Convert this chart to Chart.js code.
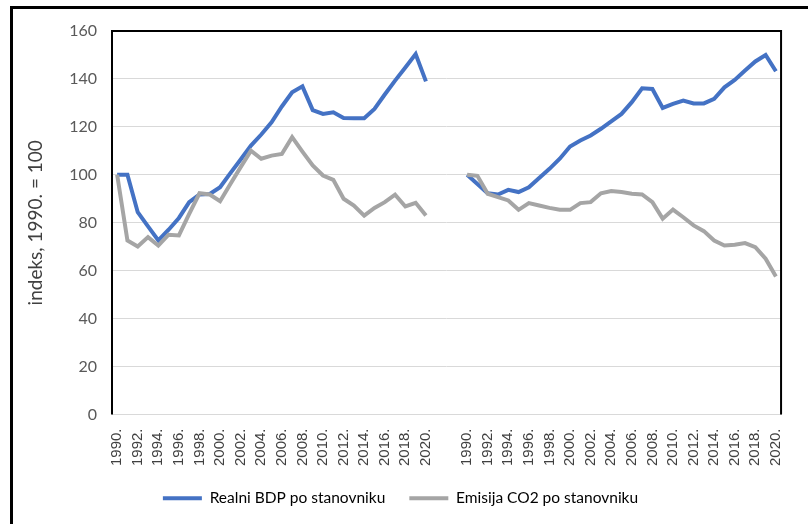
<!DOCTYPE html>
<html>
<head>
<meta charset="utf-8">
<script src="https://cdn.jsdelivr.net/npm/chart.js@4.4.1/dist/chart.umd.min.js"></script>
<style>
  html, body { margin: 0; padding: 0; background: #fff; }
  #wrap { width: 808px; height: 524px; position: relative; }
</style>
</head>
<body>
<div id="wrap"><canvas id="chart" width="808" height="524"></canvas></div>
<script>
// years shown on each of the two panels
const years = ['1990.', '1991.', '1992.', '1993.', '1994.', '1995.', '1996.', '1997.', '1998.', '1999.',
  '2000.', '2001.', '2002.', '2003.', '2004.', '2005.', '2006.', '2007.', '2008.', '2009.',
  '2010.', '2011.', '2012.', '2013.', '2014.', '2015.', '2016.', '2017.', '2018.', '2019.', '2020.'];
// empty categories between the panels
const gapLabels = ['', '', ''];

// left panel
const bdpLeft = [100, 100, 84.4, 78.5, 72.6, 77.1, 82, 88.6, 91.8, 92, 94.8, 100.7, 106.4, 112.2, 116.8, 121.9,
  128.5, 134.4, 136.9, 127, 125.4, 126.1, 123.7, 123.6, 123.6, 127.5, 133.5, 139.3, 144.8, 150.4, 139];
const co2Left = [100, 72.6, 70.1, 74, 70.5, 75, 74.7, 83.7, 92.3, 91.8, 89, 96.2, 103.2, 110.1, 106.7, 108,
  108.7, 115.7, 109.7, 103.9, 99.7, 97.9, 90, 87.2, 83, 86.2, 88.6, 91.7, 86.8, 88.3, 83];

// right panel
const bdpRight = [100, 96.2, 92.3, 91.8, 93.7, 92.8, 94.8, 98.7, 102.5, 106.7, 111.8, 114.3, 116.4, 119.2, 122.3,
  125.4, 130.3, 136.1, 135.8, 127.9, 129.6, 131, 129.8, 129.8, 131.7, 136.5, 139.6, 143.5, 147.3, 150, 143.2];
const co2Right = [100, 99.6, 92.1, 90.7, 89.3, 85.4, 88.2, 87.2, 86.2, 85.4, 85.4, 88.2, 88.6, 92.3, 93.2, 92.8,
  92.1, 91.8, 88.6, 81.7, 85.5, 82.3, 78.9, 76.5, 72.6, 70.5, 70.8, 71.5, 69.8, 65, 57.6];

const seriesNames = ['Realni BDP po stanovniku', 'Emisija CO2 po stanovniku'];
const yTitle = 'indeks, 1990. = 100';

const gapValues = gapLabels.map(() => null);
const labels = [...years, ...gapLabels, ...years];

// outer frame + black plot border
const framePlugin = {
  id: 'frame',
  beforeDraw(chart) {
    const ctx = chart.ctx;
    ctx.save();
    ctx.fillStyle = '#fff';
    ctx.fillRect(0, 0, chart.width, chart.height);
    ctx.strokeStyle = '#000';
    ctx.lineWidth = 3;
    ctx.beginPath();
    ctx.moveTo(11.5, chart.height + 10);
    ctx.lineTo(11.5, 7.5);
    ctx.lineTo(chart.width + 10, 7.5);
    ctx.stroke();
    ctx.restore();
  },
  afterDraw(chart) {
    const a = chart.chartArea;
    const ctx = chart.ctx;
    ctx.save();
    ctx.strokeStyle = '#000';
    ctx.lineWidth = 2;
    ctx.beginPath();
    ctx.moveTo(a.left, a.bottom);
    ctx.lineTo(a.left, a.top);
    ctx.lineTo(a.right, a.top);
    ctx.lineTo(a.right, a.bottom);
    ctx.stroke();
    ctx.restore();
  }
};

Chart.defaults.font.family = 'Lato';
Chart.defaults.color = '#595959';

new Chart(document.getElementById('chart'), {
  type: 'line',
  data: {
    labels: labels,
    datasets: [
      {
        label: seriesNames[0],
        data: [...bdpLeft, ...gapValues, ...bdpRight],
        borderColor: '#4472C4',
        backgroundColor: '#4472C4',
        borderWidth: 4,
        pointRadius: 0,
        tension: 0,
        spanGaps: false,
        order: 1
      },
      {
        label: seriesNames[1],
        data: [...co2Left, ...gapValues, ...co2Right],
        borderColor: '#A5A5A5',
        backgroundColor: '#A5A5A5',
        borderWidth: 4,
        pointRadius: 0,
        tension: 0,
        spanGaps: false,
        order: 0
      }
    ]
  },
  options: {
    responsive: false,
    animation: false,
    layout: { padding: { left: 4, right: 11, top: 31, bottom: 8 } },
    plugins: {
      tooltip: { enabled: false },
      legend: {
        position: 'bottom',
        labels: {
          boxWidth: 39,
          boxHeight: 4,
          padding: 24,
          font: { size: 15.5 },
          color: '#595959',
          generateLabels(chart) {
            return chart.data.datasets.map((ds, i) => ({
              text: ds.label,
              fillStyle: ds.borderColor,
              strokeStyle: ds.borderColor,
              lineWidth: 0,
              hidden: false,
              datasetIndex: i
            }));
          }
        }
      }
    },
    scales: {
      x: {
        offset: true,
        grid: { display: false, drawTicks: false },
        border: { color: '#D9D9D9', width: 1 },
        afterFit(scale) { scale.height = 52; },
        ticks: {
          autoSkip: false,
          minRotation: 90,
          maxRotation: 90,
          padding: 14,
          color: '#404040',
          font: { family: 'Liberation Sans', size: 15 },
          callback(value) {
            const lab = this.getLabelForValue(value);
            if (!lab) return '';
            return parseInt(lab, 10) % 2 === 0 ? lab : '';
          }
        }
      },
      y: {
        min: 0,
        max: 160,
        grid: { color: '#D9D9D9', lineWidth: 1, drawTicks: false },
        border: { display: false },
        afterFit(scale) { scale.width = 108; },
        ticks: {
          stepSize: 20,
          padding: 15,
          font: { size: 16 },
          color: '#595959'
        },
        title: {
          display: true,
          text: yTitle,
          font: { size: 19 },
          color: '#404040',
          padding: { top: 20, bottom: 0 }
        }
      }
    }
  },
  plugins: [framePlugin]
});
</script>
</body>
</html>
